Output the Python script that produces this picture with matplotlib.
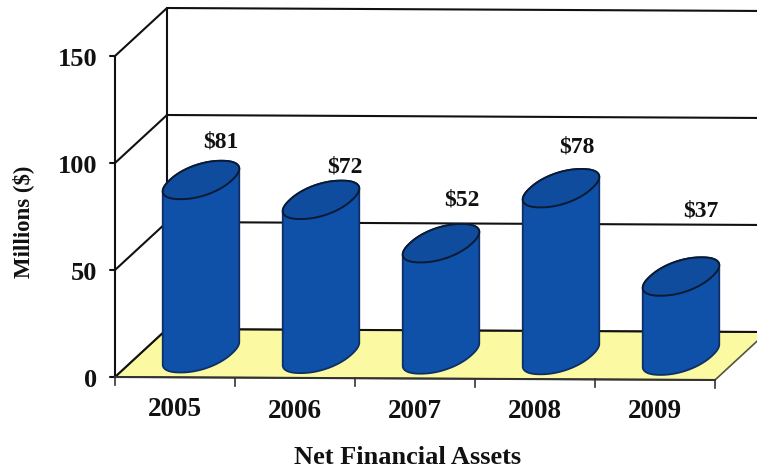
import numpy as np
import matplotlib
matplotlib.use("Agg")
import matplotlib.pyplot as plt
from matplotlib.patches import Polygon

years = ["2005", "2006", "2007", "2008", "2009"]
assets = [81, 72, 52, 78, 37]
value_ticks = [0, 50, 100, 150]
x_title = "Net Financial Assets"
y_title = "Millions ($)"

BLUE = "#0f50a8"
BLUE_TOP = "#104c9e"
FLOOR = "#fbf9a2"
INK = "#111111"
SERIF = "Liberation Serif"

# Oblique projection: one category step is 120 px, one value unit 2.14 px.
DEPTH_X = 52 / 120
DEPTH_Y = 48 / 2.14
TILT = -0.6 / 2.14


def project(cat, value, depth=0.0):
    """Map category / value / depth to axes data coordinates."""
    cat = np.asarray(cat, dtype=float)
    value = np.asarray(value, dtype=float)
    x = cat + DEPTH_X * depth
    y = value + DEPTH_Y * depth + TILT * (cat + 0.5)
    return x, y


fig = plt.figure(figsize=(7.57, 4.68), dpi=100)
ax = fig.add_axes([0, 0, 1, 1])
ax.set_xlim(-175 / 120, (757 - 175) / 120)
ax.set_ylim(-(468 - 377) / 2.14, 377 / 2.14)
ax.axis("off")

n = len(years)
left, right = -0.5, n - 0.5
vmax = value_ticks[-1]

# Floor
corners = [project(left, 0, 0), project(right, 0, 0), project(right, 0, 1), project(left, 0, 1)]
ax.add_patch(Polygon(corners, closed=True, fc=FLOOR, ec="#55553a", lw=1.2, zorder=1))

# Walls and their gridlines
line = dict(color=INK, lw=1.5, solid_capstyle="round", zorder=2)
for v in value_ticks:
    xs, ys = project([left, left, right], v, np.array([0, 1, 1]))
    ax.plot(xs, ys, **line)
    tx, ty = project([left - 5 / 120, left], v, 0)
    ax.plot(tx, ty, **line)
    ax.text(tx[0] - 13 / 120, ty[0] - 1.5, str(v), ha="right", va="center",
            family=SERIF, weight="bold", fontsize=19, color=INK, zorder=6)
for depth in (0, 1):
    xs, ys = project([left, left], [0, vmax], depth)
    ax.plot(xs, ys, **line)

# Category axis along the front of the floor
xs, ys = project([left, right], 0, 0)
ax.plot(xs, ys, color="#333333", lw=1.5, zorder=2)
for c in np.arange(n + 1) - 0.5:
    tx, ty = project(c, 0, 0)
    ax.plot([tx, tx], [ty, ty - 8 / 2.14], color="#333333", lw=1.2, zorder=2)

# Cylinders
RADIUS = 31 / 120
SPREAD = 0.40
EXPONENT = 0.92


def rim(center, value, t):
    c, s = np.cos(t), np.sin(t)
    c = np.sign(c) * np.abs(c) ** EXPONENT
    s = np.sign(s) * np.abs(s) ** EXPONENT
    return project(center + RADIUS * c, value, 0.5 + SPREAD * s)


start = np.pi + np.arctan2(21, 32)
lower = np.linspace(start, start + np.pi, 80)
upper = np.linspace(start + np.pi, start + 2 * np.pi, 80)

for i, v in enumerate(assets):
    bx, by = rim(i, 0, lower)
    tx, ty = rim(i, v, upper)
    body = np.column_stack([np.r_[bx, tx], np.r_[by, ty]])
    ax.add_patch(Polygon(body, closed=True, fc=BLUE, ec="#0d2f66", lw=1.3,
                         joinstyle="round", zorder=3 + i * 0.01))
    ex, ey = rim(i, v, np.linspace(0, 2 * np.pi, 200))
    ax.add_patch(Polygon(np.column_stack([ex, ey]), closed=True, fc=BLUE_TOP,
                         ec="#0a1a33", lw=1.4, zorder=3.5 + i * 0.01))

# Value labels sit by hand above each cylinder (offsets in px)
label_offsets = [(20, 38), (24, 33), (21, 43), (16, 41), (20, 66)]
for i, (v, (ox, oy)) in enumerate(zip(assets, label_offsets)):
    lx, ly = project(i, v, 0.5)
    ax.text(lx + ox / 120, ly + oy / 2.14, f"${v}", ha="center", va="center",
            family=SERIF, weight="bold", fontsize=17, color=INK,
            parse_math=False, zorder=6)

# Category labels
label_y = [-33, -34, -34, -34, -35]
for i, (year, dy) in enumerate(zip(years, label_y)):
    ax.text(i, dy / 2.14, year, ha="center", va="center", family=SERIF,
            weight="bold", fontsize=19.5, color=INK, zorder=6)

# Axis titles
ax.text((408 - 175) / 120, (377 - 458) / 2.14, x_title, ha="center", va="center",
        family=SERIF, weight="bold", fontsize=19, color=INK, parse_math=False)
ax.text((23 - 175) / 120, (377 - 222) / 2.14, y_title, ha="center", va="center",
        rotation=90, family=SERIF, weight="bold", fontsize=16.5, color=INK,
        parse_math=False)

fig.savefig("out.png", dpi=100)
